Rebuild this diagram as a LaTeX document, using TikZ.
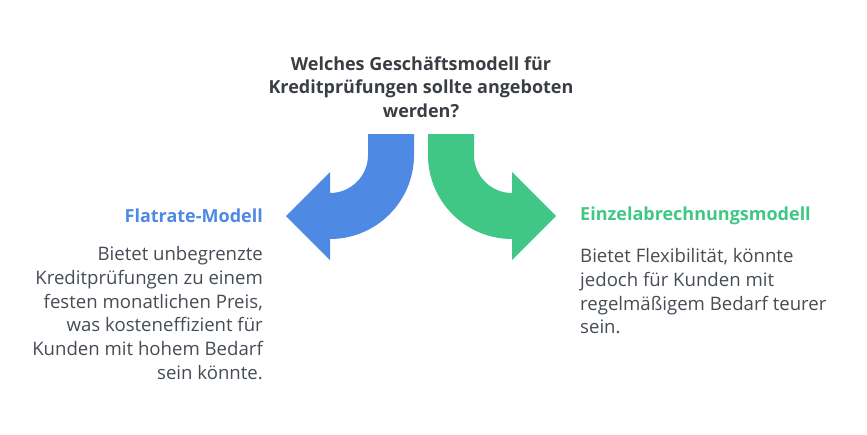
\documentclass[tikz,border=0pt]{standalone}
\usepackage{fontspec}
\setmainfont{Open Sans}
\usetikzlibrary{positioning}
\definecolor{cBlue}{RGB}{78,137,228}
\definecolor{cGreen}{RGB}{64,199,133}
\definecolor{cText}{RGB}{69,76,84}
\definecolor{cTitle}{RGB}{58,62,68}
\tikzset{titletext/.style={
  font=\bfseries\fontsize{18}{23.5}\selectfont,
  text=cTitle,
  align=center,
  inner sep=0pt,
  }
}
\tikzset{headtext/.style={
  font=\bfseries\fontsize{18}{23.5}\selectfont,
  inner sep=0pt,
  }
}
\tikzset{bodytext/.style={
  font=\fontsize{18.6}{23.8}\selectfont,
  text=cText,
  inner sep=0pt,
  }
}

\begin{document}
\begin{tikzpicture}[x=1pt,y=-1pt]
  \useasboundingbox (0,0) rectangle (867,434);
  % question
  \node [titletext] (question) at (421,87) {Welches Geschäftsmodell für\\Kreditprüfungen sollte angeboten\\werden?};

  % arrows
  \fill [cBlue] (368,134) -- (414,134) -- (414,155)
    arc [start angle=0, end angle=90, radius=84] -- (330,260) -- (286,216) -- (330,172) -- (330,193)
    arc [start angle=90, end angle=0, radius=38] -- cycle;
  \fill [cGreen] (474,134) -- (428,134) -- (428,155)
    arc [start angle=180, end angle=90, radius=84] -- (512,260) -- (556,216) -- (512,172) -- (512,193)
    arc [start angle=90, end angle=180, radius=38] -- cycle;

  % options
  \node [headtext, text=cBlue, anchor=east] (flat) at (263,216) {Flatrate-Modell};
  \node [bodytext, align=right, below=23pt of flat.south east, anchor=north east] (flatText)
    {Bietet unbegrenzte\\Kreditprüfungen zu einem\\festen monatlichen Preis,\\was kosteneffizient für\\Kunden mit hohem Bedarf\\sein könnte.};
  \node [headtext, text=cGreen, anchor=west] (single) at (580,216) {Einzelabrechnungsmodell};
  \node [bodytext, align=left, below=23pt of single.south west, anchor=north west] (singleText)
    {Bietet Flexibilität, könnte\\jedoch für Kunden mit\\regelmäßigem Bedarf teurer\\sein.};
\end{tikzpicture}
\end{document}
